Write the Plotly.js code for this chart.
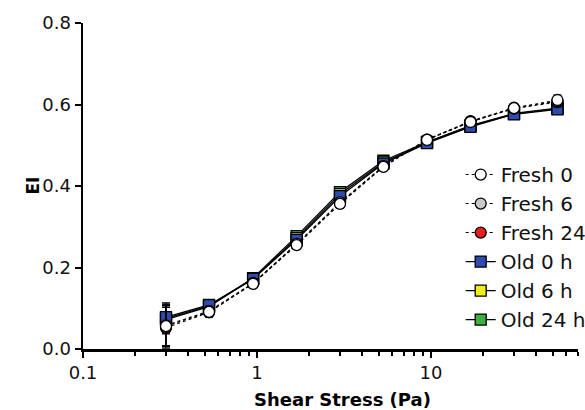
<!DOCTYPE html>
<html>
<head>
<meta charset="utf-8">
<script src="https://cdn.plot.ly/plotly-3.0.1.min.js"></script>
<style>html,body{margin:0;padding:0;background:#fff;overflow:hidden;}#chart{width:585px;height:410px;}</style>
</head>
<body>
<div id="chart"></div>
<script>
const shearStress = [0.3, 0.53, 0.95, 1.69, 3, 5.33, 9.49, 16.87, 30, 53.33];
const fresh0  = [0.056, 0.091, 0.160, 0.255, 0.356, 0.447, 0.513, 0.557, 0.591, 0.611];
const fresh6  = [0.058, 0.093, 0.162, 0.258, 0.360, 0.449, 0.514, 0.559, 0.592, 0.608];
const fresh24 = [0.052, 0.090, 0.161, 0.257, 0.358, 0.448, 0.514, 0.558, 0.590, 0.606];
const old0    = [0.078, 0.108, 0.172, 0.268, 0.375, 0.455, 0.505, 0.545, 0.576, 0.588];
const old6    = [0.075, 0.106, 0.172, 0.272, 0.380, 0.458, 0.507, 0.547, 0.577, 0.590];
const old24   = [0.072, 0.104, 0.174, 0.277, 0.385, 0.462, 0.508, 0.548, 0.578, 0.591];
const errFresh = [0.05, 0.012, 0.01, 0.01, 0.01, 0.008, 0.008, 0.008, 0.008, 0.012];
const errOld   = [0.035, 0.010, 0.01, 0.01, 0.01, 0.008, 0.008, 0.008, 0.008, 0.012];
const seriesNames = ["Fresh 0", "Fresh 6", "Fresh 24", "Old 0 h", "Old 6 h", "Old 24 h"];
const xTitle = "Shear Stress (Pa)";
const yTitle = "EI";

function tr(idx, y, err, symbol, fill, dash, lw) {
  return {
    x: shearStress, y: y, name: seriesNames[idx], type: 'scatter', mode: 'lines+markers',
    legendgroup: seriesNames[idx], legendrank: idx + 1,
    line: {color: '#000', width: lw, dash: dash},
    marker: {symbol: symbol, size: 11, color: fill, line: {color: '#000', width: 1.3}},
    error_y: {type: 'data', array: err, visible: true, color: '#000', thickness: 1.3, width: 4}
  };
}
const traces = [
  tr(5, old24, errOld, 'square', '#3cb043', 'solid', 1.3),
  tr(4, old6, errOld, 'square', '#f2ee1c', 'solid', 1.3),
  tr(3, old0, errOld, 'square', '#2e4bb0', 'solid', 1.3),
  tr(2, fresh24, errFresh, 'circle', '#e81e1e', 'dot', 1.1),
  tr(1, fresh6, errFresh, 'circle', '#c8c8c8', 'dot', 1.1),
  tr(0, fresh0, errFresh, 'circle', '#ffffff', 'dot', 1.1)
];
const layout = {
  width: 585, height: 410,
  margin: {l: 83, r: 7, t: 23, b: 61, autoexpand: false},
  paper_bgcolor: '#fff', plot_bgcolor: '#fff',
  font: {family: 'DejaVu Sans, Arial, sans-serif', color: '#111', size: 18},
  showlegend: true,
  legend: {traceorder: 'grouped', x: 0.763, xanchor: 'left', y: 0.595, yanchor: 'top',
           bgcolor: 'rgba(0,0,0,0)', font: {size: 20, color: '#111'}, tracegroupgap: 0, itemwidth: 30},
  xaxis: {
    type: 'log', range: [-1, 1.845], showgrid: false, zeroline: false,
    showline: true, linecolor: '#000', linewidth: 2.5,
    ticks: 'outside', ticklen: 6, tickwidth: 2, tickcolor: '#000',
    tickvals: [0.1, 1, 10], ticktext: ['0.1', '1', '10'],
    minor: {ticks: 'outside', ticklen: 4, tickwidth: 2, tickcolor: '#000', dtick: 'D1', showgrid: false}
  },
  yaxis: {
    range: [0, 0.8], showgrid: false, zeroline: false,
    showline: true, linecolor: '#000', linewidth: 2.5,
    ticks: 'outside', ticklen: 6, tickwidth: 2, tickcolor: '#000',
    tickvals: [0, 0.2, 0.4, 0.6, 0.8], ticktext: ['0.0', '0.2', '0.4', '0.6', '0.8']
  },
  annotations: [
    {text: '<b>' + xTitle + '</b>', xref: 'paper', yref: 'paper', x: 0.525, y: -0.155,
     xanchor: 'center', yanchor: 'middle', showarrow: false, font: {size: 18, color: '#000'}},
    {text: '<b>' + yTitle + '</b>', xref: 'paper', yref: 'paper', x: -0.102, y: 0.5,
     xanchor: 'center', yanchor: 'middle', textangle: -90, showarrow: false, font: {size: 17, color: '#000'}}
  ]
};
Plotly.newPlot('chart', traces, layout, {staticPlot: true, displayModeBar: false});
</script>
</body>
</html>
